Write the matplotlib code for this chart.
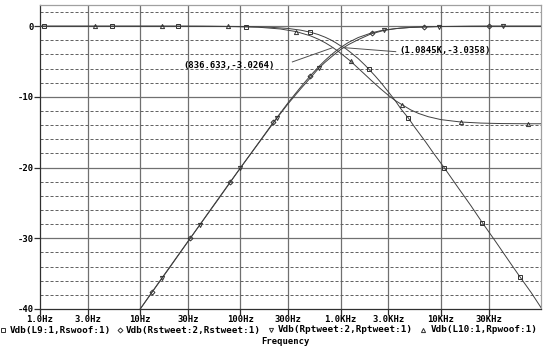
import matplotlib
matplotlib.use('Agg')
import matplotlib.pyplot as plt
from matplotlib.lines import Line2D

# Vdb(L9:1,Rswoof:1)  - woofer, series network
f_sw = [1, 1.1, 5.2, 10, 24, 50, 114, 200, 300, 400, 500, 600, 700, 800, 900, 1000,
        1100, 1250, 1500, 1750, 1920, 2200, 2500, 3000, 3500, 4000, 4750, 5500, 7000,
        8500, 10800, 15000, 20000, 26000, 35000, 50000, 62000, 80000, 100000]
db_sw = [0, 0, 0, 0, 0, -0.01, -0.05, -0.15, -0.32, -0.56, -0.85, -1.18, -1.55, -1.94, -2.36, -2.78,
         -3.07, -3.67, -4.59, -5.5, -6.1, -7.0, -7.9, -9.3, -10.5, -11.7, -13.0, -14.3, -16.3,
         -18.0, -20.0, -22.9, -25.4, -27.8, -30.4, -33.6, -35.5, -37.7, -39.8]
mk_sw = [1.1, 5.2, 24, 114, 500, 1920, 4750, 10800, 26000, 62000]

# Vdb(Rstweet:2,Rstweet:1) - tweeter, series network
f_st = [7, 10, 13.1, 20, 31.6, 50, 79, 100, 150, 213, 300, 400, 500, 600, 700, 800, 900,
        1000, 1200, 1500, 2050, 2500, 3000, 4000, 5000, 6800, 10000, 20000, 30000, 50000, 100000]
db_st = [-43.1, -40.0, -37.65, -34.0, -30.0, -26.0, -22.05, -20.04, -16.6, -13.6, -10.8, -8.6,
         -6.99, -5.77, -4.83, -4.09, -3.49, -3.01, -2.29, -1.6, -0.93, -0.64, -0.46, -0.26,
         -0.17, -0.09, -0.04, -0.01, 0, 0, 0]
mk_st = [13.1, 31.6, 79, 213, 500, 2050, 6800, 30000]

# Vdb(Rptweet:2,Rptweet:1) - tweeter, parallel network
f_pt = [7, 10, 16.5, 25, 39.4, 60, 100, 150, 233, 300, 400, 500, 605, 700, 800, 900, 1000,
        1200, 1500, 2000, 2700, 3500, 5000, 9500, 20000, 42000, 100000]
db_pt = [-43.1, -40.0, -35.6, -32.0, -28.1, -24.5, -20.05, -16.65, -12.95, -10.95, -8.85, -7.3,
         -5.95, -5.1, -4.4, -3.8, -3.3, -2.6, -1.9, -1.1, -0.6, -0.35, -0.17, -0.05, -0.01, 0, 0]
mk_pt = [16.5, 39.4, 100, 233, 605, 2700, 9500, 42000]

# Vdb(L10:1,Rpwoof:1) - woofer, parallel network (shelves off above 10k)
f_pw = [1, 3.5, 10, 16.6, 40, 75, 150, 250, 360, 500, 600, 700, 800, 900, 1000, 1100, 1260,
        1500, 1750, 2000, 2500, 3000, 3500, 4100, 5000, 6000, 7500, 10000, 15800, 25000,
        40000, 75000, 100000]
db_pw = [0, 0, 0, 0, -0.01, -0.04, -0.14, -0.39, -0.76, -1.36, -1.84, -2.33, -2.83, -3.33, -3.81,
         -4.28, -4.95, -5.95, -6.83, -7.6, -8.84, -9.78, -10.5, -11.1, -11.83, -12.34, -12.8,
         -13.21, -13.55, -13.7, -13.77, -13.8, -13.8]
mk_pw = [3.5, 16.6, 75, 360, 1260, 4100, 15800, 75000]

traces = [
    ('Vdb(L9:1,Rswoof:1)', f_sw, db_sw, mk_sw, 's'),
    ('Vdb(Rstweet:2,Rstweet:1)', f_st, db_st, mk_st, 'D'),
    ('Vdb(Rptweet:2,Rptweet:1)', f_pt, db_pt, mk_pt, 'v'),
    ('Vdb(L10:1,Rpwoof:1)', f_pw, db_pw, mk_pw, '^'),
]

# cursor readouts
cursors = [(836.633, -3.0264), (1084.5, -3.0358)]
cursor_text = ['(836.633,-3.0264)', '(1.0845K,-3.0358)']

xticks = [1, 3, 10, 30, 100, 300, 1000, 3000, 10000, 30000]
xtick_labels = ['1.0Hz', '3.0Hz', '10Hz', '30Hz', '100Hz', '300Hz',
                '1.0KHz', '3.0KHz', '10KHz', '30KHz']
yticks = [0, -10, -20, -30, -40]

plt.rcParams['lines.scale_dashes'] = False
FONT = dict(family='DejaVu Sans Mono', weight='bold', size=6.4)
LFONT = dict(family='DejaVu Sans Mono', weight='bold', size=6.7)
W, H = 557, 348

fig = plt.figure(figsize=(W / 100, H / 100), dpi=100)
ax = fig.add_axes([40 / W, 1 - 309 / H, 501 / W, 304 / H])
ax.set_xscale('log')
ax.set_xlim(1, 100000)
ax.set_ylim(-40, 3)

# grid
for x in xticks[1:]:
    ax.axvline(x, color='#707070', lw=0.9, zorder=1)
for y in range(-38, 3, 2):
    if y % 10 == 0:
        ax.axhline(y, color='#707070', lw=0.9, zorder=1)
    else:
        ax.axhline(y, color='#606060', lw=0.7, ls=(0, (2.2, 1.4)), zorder=1)

for name, f, db, mk, m in traces:
    idx = [f.index(v) for v in mk]
    ax.plot(f, db, color='#404040', lw=0.7, marker=m, markevery=idx,
            ms=3.0 if m != 'D' else 2.5, mfc='none', mec='#303030', mew=0.7,
            zorder=3, clip_on=True)

# cursor labels with leader lines
ax.plot([330, cursors[0][0]], [-5.05, cursors[0][1]], color='#505050', lw=0.7, zorder=4)
ax.text(27, -5.6, cursor_text[0], ha='left', va='center', zorder=5, **FONT)
ax.plot([cursors[1][0], 3550], [cursors[1][1], -3.6], color='#505050', lw=0.7, zorder=4)
ax.text(3900, -3.45, cursor_text[1], ha='left', va='center', zorder=5, **FONT)

for s in ['top', 'right']:
    ax.spines[s].set_color('#a0a0a0')
for s in ['left', 'bottom']:
    ax.spines[s].set_color('#303030')
for s in ax.spines.values():
    s.set_linewidth(0.9)

ax.set_xticks(xticks)
ax.set_xticklabels(xtick_labels, **FONT)
ax.set_xticks([], minor=True)
ax.set_yticks(yticks)
ax.set_yticklabels(['%d' % v for v in yticks], **FONT)
ax.tick_params(axis='both', length=4, width=0.9, color='#303030', pad=0.6)

# trace legend under the axis
legend_x = [(3, 10), (120, 126), (271, 278), (423, 431)]
for (mx, tx), (name, f, db, mk, m) in zip(legend_x, traces):
    fig.add_artist(Line2D([mx / W], [1 - 330 / H], marker=m, ms=3.0 if m != 'D' else 2.5,
                          mfc='none', mec='#303030', mew=0.7, ls='none'))
    fig.text(tx / W, 1 - 330 / H, name, ha='left', va='center', **LFONT)
fig.text(285 / W, 1 - 341.5 / H, 'Frequency', ha='center', va='center', **FONT)

fig.savefig('out.png', dpi=100, facecolor='white')
